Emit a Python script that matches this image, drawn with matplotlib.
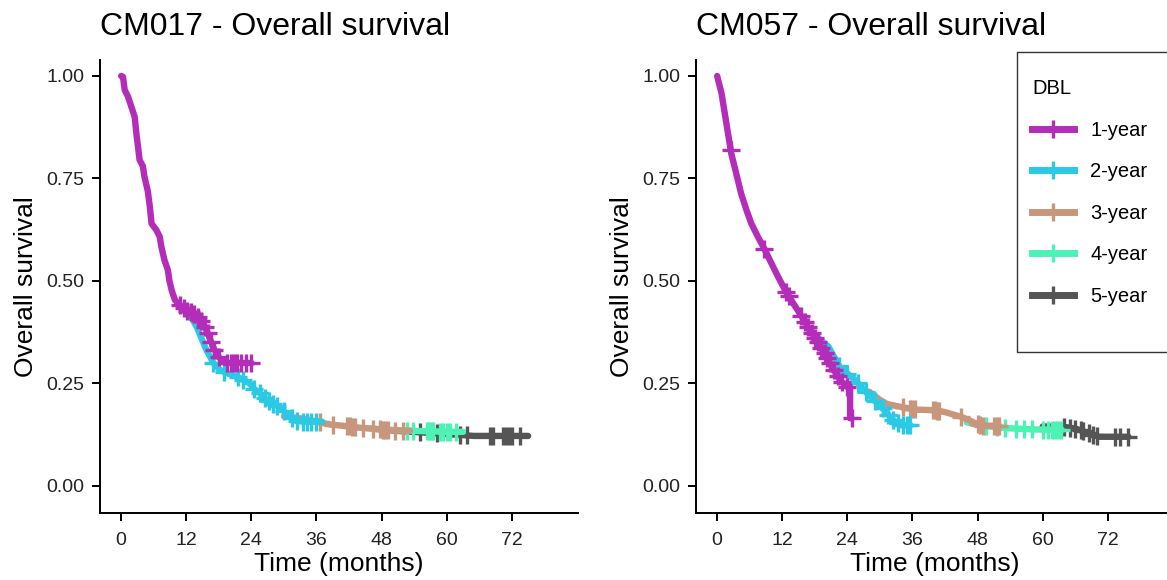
import matplotlib
matplotlib.use("Agg")
import matplotlib.pyplot as plt
from matplotlib.lines import Line2D
from matplotlib.patches import Rectangle
import numpy as np

plt.rcParams['font.family'] = ['Liberation Sans', 'DejaVu Sans']

dbl_labels = ["1-year", "2-year", "3-year", "4-year", "5-year"]
dbl_colors = ["#B42DB8", "#2CC9E4", "#C8967C", "#4DF2B4", "#555555"]
x_ticks = [0, 12, 24, 36, 48, 60, 72]
y_ticks = [0.0, 0.25, 0.5, 0.75, 1.0]
y_tick_labels = ["0.00", "0.25", "0.50", "0.75", "1.00"]

# CM017 - survival curve points (months, survival) and censor times per DBL
cm017_t1 = [0, 0.34, 0.65, 1.25, 1.88, 2.5, 2.8, 3.1, 3.4, 4.0, 4.3, 4.9, 5.3, 5.6, 6.5, 7.1, 7.4,
            8.0, 8.6, 8.9, 9.3, 9.9, 10.8, 12.0, 13.9, 15.1, 16.0, 16.9, 17.9, 19.2, 24.0]
cm017_s1 = [1.0, 0.998, 0.966, 0.95, 0.925, 0.90, 0.86, 0.828, 0.795, 0.78, 0.754, 0.72, 0.68, 0.64, 0.624, 0.608, 0.584,
            0.55, 0.527, 0.50, 0.478, 0.454, 0.441, 0.429, 0.417, 0.397, 0.372, 0.34, 0.315, 0.30, 0.30]
cm017_c1 = [10.8, 11.5, 12.2, 12.8, 13.5, 14.2, 14.8, 15.4, 16.0, 16.6, 17.2, 18.0,
            19.5, 20.2, 20.8, 21.3, 22.0, 23.0, 24.0]

cm017_t2 = [11.0, 12.5, 13.9, 14.8, 15.7, 17.0, 18.2, 19.5, 21.3, 22.5, 23.7, 24.6, 25.6,
            26.8, 28.0, 29.2, 30.2, 31.1, 32.3, 33.5, 37.0]
cm017_s2 = [0.441, 0.42, 0.389, 0.36, 0.332, 0.30, 0.283, 0.275, 0.267, 0.258, 0.25, 0.235, 0.226,
            0.21, 0.2, 0.193, 0.18, 0.169, 0.16, 0.157, 0.157]
cm017_c2 = [17.0, 19.0, 21.5, 22.5, 24.5, 25.5, 26.5, 27.2, 28.0, 28.8, 30.0, 31.5, 32.5,
            33.5, 34.2, 35.0, 36.0]

cm017_t3 = [30.0, 33.0, 35.0, 36.6, 38.5, 40.0, 42.2, 44.0, 46.0, 48.3, 50.0, 53.2]
cm017_s3 = [0.17, 0.165, 0.16, 0.155, 0.15, 0.148, 0.145, 0.142, 0.14, 0.137, 0.135, 0.135]
cm017_c3 = [36.6, 39.0, 41.6, 42.1, 42.6, 43.1, 44.6, 46.4, 47.7, 48.2, 48.7, 49.2, 50.5, 52.0]

cm017_t4 = [46.0, 50.0, 52.8, 55.0, 58.0, 60.0, 63.0]
cm017_s4 = [0.14, 0.137, 0.135, 0.134, 0.133, 0.132, 0.132]
cm017_c4 = [52.6, 53.8, 56.3, 56.7, 57.1, 57.5, 58.8, 59.4, 60.0, 60.6, 61.8]

cm017_t5 = [50.0, 56.0, 62.0, 65.0, 75.0]
cm017_s5 = [0.135, 0.13, 0.125, 0.122, 0.122]
cm017_c5 = [55.1, 58.2, 62.5, 63.7, 68.0, 68.6, 70.4, 70.9, 71.4, 72.0, 73.5]

# CM057
cm057_t1 = [0, 0.8, 1.4, 2.0, 2.6, 3.5, 4.4, 5.4, 6.3, 7.5, 8.8, 10.0, 11.2, 12.5, 14.0, 15.6,
            17.1, 18.7, 20.2, 21.5, 22.6, 23.9, 24.5, 24.5, 24.8]
cm057_s1 = [1.0, 0.958, 0.909, 0.86, 0.811, 0.763, 0.714, 0.673, 0.64, 0.608, 0.576, 0.543, 0.511, 0.478, 0.446, 0.413,
            0.38, 0.348, 0.315, 0.283, 0.259, 0.242, 0.242, 0.165, 0.165]
cm057_c1 = [2.5, 8.7, 12.7, 13.2, 15.5, 16.2, 16.8, 17.5, 18.0, 18.6, 19.2, 19.8, 20.3, 20.8,
            21.5, 22.2, 23.0, 24.0, 24.8]

cm057_t2 = [17.1, 18.7, 20.5, 22.6, 25.7, 27.0, 28.8, 30.0, 31.3, 32.5, 33.8, 35.6]
cm057_s2 = [0.38, 0.36, 0.34, 0.29, 0.255, 0.235, 0.21, 0.197, 0.177, 0.16, 0.148, 0.148]
cm057_c2 = [22.5, 24.0, 26.0, 27.5, 29.0, 30.5, 31.5, 32.5, 33.3, 34.2, 35.0, 35.6]

cm057_t3 = [28.0, 30.0, 31.3, 33.0, 35.0, 37.0, 40.0, 42.0, 44.9, 46.5, 48.6, 52.0]
cm057_s3 = [0.23, 0.21, 0.2, 0.195, 0.19, 0.186, 0.185, 0.18, 0.169, 0.16, 0.147, 0.147]
cm057_c3 = [34.3, 35.6, 36.0, 36.5, 39.7, 40.1, 40.5, 40.8, 44.9, 48.0, 48.5, 49.0, 51.0, 51.5, 52.0]

cm057_t4 = [46.0, 49.2, 52.0, 55.0, 58.0, 62.2, 63.5]
cm057_s4 = [0.155, 0.147, 0.142, 0.14, 0.138, 0.137, 0.137]
cm057_c4 = [49.5, 51.5, 53.0, 55.0, 56.5, 58.0, 60.0, 61.0, 61.7, 62.2, 62.8, 63.4]

cm057_t5 = [60.0, 63.5, 66.0, 68.4, 70.3, 75.8]
cm057_s5 = [0.145, 0.145, 0.14, 0.129, 0.12, 0.12]
cm057_c5 = [64.0, 65.0, 66.0, 67.0, 67.5, 68.5, 69.3, 70.0, 73.3, 74.2, 75.8]

cm017 = [(cm017_t1, cm017_s1, cm017_c1), (cm017_t2, cm017_s2, cm017_c2), (cm017_t3, cm017_s3, cm017_c3),
         (cm017_t4, cm017_s4, cm017_c4), (cm017_t5, cm017_s5, cm017_c5)]
cm057 = [(cm057_t1, cm057_s1, cm057_c1), (cm057_t2, cm057_s2, cm057_c2), (cm057_t3, cm057_s3, cm057_c3),
         (cm057_t4, cm057_s4, cm057_c4), (cm057_t5, cm057_s5, cm057_c5)]

LW = 4.6
MS = 13
MEW = 2.4


def km_panel(ax, curves, title):
    # 5-year first so the 1-year curve ends up on top
    for i in reversed(range(len(curves))):
        t, s, c = curves[i]
        ax.plot(t, s, color=dbl_colors[i], lw=LW, solid_capstyle='round', solid_joinstyle='round')
        ax.plot(c, np.interp(c, t, s), ls='none', marker='+', ms=MS, mew=MEW, color=dbl_colors[i])
    ax.set_xlim(-3.9, 84.2)
    ax.set_ylim(-0.066, 1.039)
    ax.set_xticks(x_ticks)
    ax.set_yticks(y_ticks)
    ax.set_yticklabels(y_tick_labels)
    for side in ['top', 'right']:
        ax.spines[side].set_visible(False)
    for side in ['left', 'bottom']:
        ax.spines[side].set_linewidth(1.4)
    ax.tick_params(direction='out', length=6, width=1.4, labelsize=14, pad=5, colors='black', labelcolor='#222222')
    ax.tick_params(axis='x', pad=8)
    ax.set_xlabel("Time (months)", fontsize=19, labelpad=2)
    ax.set_ylabel("Overall survival", fontsize=19, labelpad=6)
    ax.set_title(title, loc='left', fontsize=23, pad=18)


fig = plt.figure(figsize=(11.67, 5.80), dpi=100)
ax1 = fig.add_axes([100 / 1167, 1 - 513 / 580, 478 / 1167, 453 / 580])
ax2 = fig.add_axes([696 / 1167, 1 - 513 / 580, 478 / 1167, 453 / 580])

km_panel(ax1, cm017, "CM017 - Overall survival")
km_panel(ax2, cm057, "CM057 - Overall survival")

# legend box runs off the right edge like the original
fig.patches.append(Rectangle((1017 / 1167, 1 - 352 / 580), 170 / 1167, 300 / 580,
                             transform=fig.transFigure, fill=True, facecolor='white',
                             edgecolor='#333333', lw=1.0, zorder=5))
handles = [Line2D([], [], color=col, lw=LW + 0.4, marker='+', ms=MS, mew=MEW) for col in dbl_colors]
leg = fig.legend(handles, dbl_labels, title='DBL', loc='upper left', bbox_to_anchor=(1024 / 1167, 1 - 71 / 580),
                 frameon=False, fontsize=14.5, title_fontsize=14.5, alignment='left', numpoints=1,
                 handlelength=2.1, handletextpad=0.8, labelspacing=1.12, borderaxespad=0)
leg.set_zorder(6)

fig.savefig("out.png", dpi=100)
